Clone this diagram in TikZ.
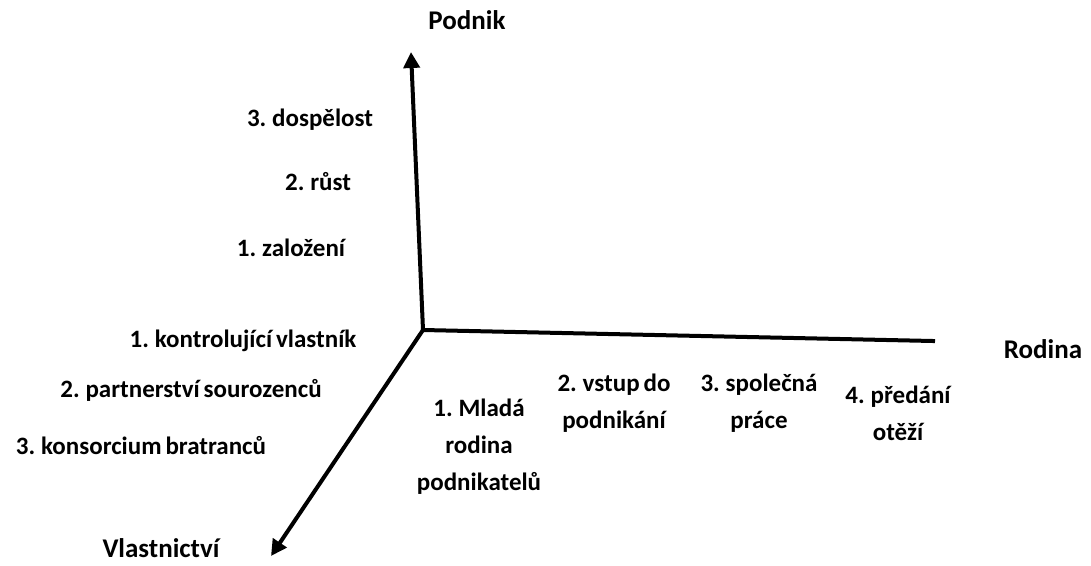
\documentclass[tikz,border=0pt]{standalone}
\usepackage{fontspec}
\setmainfont[WordSpace=0.7]{Carlito}
\usetikzlibrary{arrows.meta}
\begin{document}
\begin{tikzpicture}[x=1pt,y=-1pt,
  axis/.style={line width=4pt,line cap=rect},
  axisarrow/.style={axis,-{Triangle[length=16pt,width=16pt]}},
  lbl/.style={font=\bfseries\fontsize{25}{37}\selectfont,align=center,inner sep=0pt},
  title/.style={font=\bfseries\fontsize{27}{30}\selectfont,inner sep=0pt}]
\useasboundingbox (0,0) rectangle (1091,565);
% axes
\coordinate (origin) at (423,330);
\coordinate (ptop) at (411,52);
\coordinate (rend) at (933,341);
\coordinate (vtip) at (271,556);
\draw[axisarrow] (origin) -- (ptop);
\draw[axis] (origin) -- (rend);
\draw[axisarrow] (origin) -- (vtip);
% axis titles
\node[title] (podnik) at (467,20) {Podnik};
\node[title] (rodina) at (1043,349) {Rodina};
\node[title] (vlast) at (161,548) {Vlastnictví};
% business stages
\node[lbl] (p3) at (310,120) {3. dospělost};
\node[lbl] (p2) at (318,182) {2. růst};
\node[lbl] (p1) at (291,248) {1. založení};
% ownership stages
\node[lbl] (v1) at (243,341) {1. kontrolující vlastník};
\node[lbl] (v2) at (191,390) {2. partnerství sourozenců};
\node[lbl] (v3) at (141,446) {3. konsorcium bratranců};
% family stages
\node[lbl] (r1) at (479,447) {1. Mladá\\rodina\\podnikatelů};
\node[lbl] (r2) at (614,403) {2. vstup do\\podnikání};
\node[lbl] (r3) at (759,403) {3. společná\\práce};
\node[lbl] (r4) at (898,413) {4. předání\\otěží};
\end{tikzpicture}
\end{document}
